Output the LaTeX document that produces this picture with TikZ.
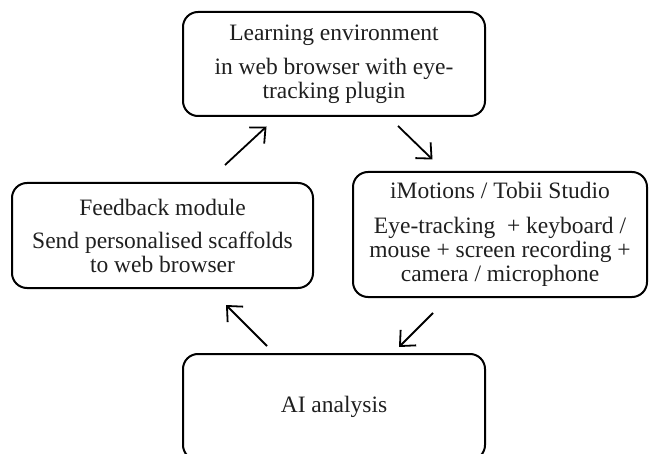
\documentclass[tikz,border=0pt]{standalone}
\usepackage{fontspec}
\setmainfont{Liberation Serif}
\usetikzlibrary{arrows.meta}
\begin{document}
\begin{tikzpicture}[x=1pt,y=-1pt,
  box/.style={draw, line width=2pt, rounded corners=15pt, align=center, inner sep=0pt,
    text=black!88, font=\fontsize{23.5}{24}\selectfont},
  flow/.style={line width=1.8pt, -{Straight Barb[length=12pt,width=22pt,line width=1.8pt]}}]
\useasboundingbox (0,0) rectangle (650,454);
\node[box, minimum width=302pt, minimum height=104pt] (env) at (334,64)
  {Learning environment\\[10pt] in web browser with eye-\\ tracking plugin};
\node[box, minimum width=294pt, minimum height=125pt] (imo) at (500,234.5)
  {iMotions / Tobii Studio\\[11pt] Eye-tracking~ + keyboard /\\ mouse + screen recording +\\ camera / microphone};
\node[box, minimum width=301pt, minimum height=105pt] (fb) at (162.5,235.5)
  {Feedback module\\[9pt] Send personalised scaffolds\\ to web browser};
\node[box, minimum width=302pt, minimum height=106pt] (ai) at (334,407)
  {AI analysis};
\coordinate (a1s) at (225,165);
\coordinate (a1e) at (266.5,126.5);
\coordinate (a2s) at (398,126);
\coordinate (a2e) at (432.5,159.5);
\coordinate (a3s) at (433,313);
\coordinate (a3e) at (399,347);
\coordinate (a4s) at (267,346);
\coordinate (a4e) at (226,305);
\draw[flow] (a1s) -- (a1e);
\draw[flow] (a2s) -- (a2e);
\draw[flow] (a3s) -- (a3e);
\draw[flow] (a4s) -- (a4e);
\end{tikzpicture}
\end{document}
